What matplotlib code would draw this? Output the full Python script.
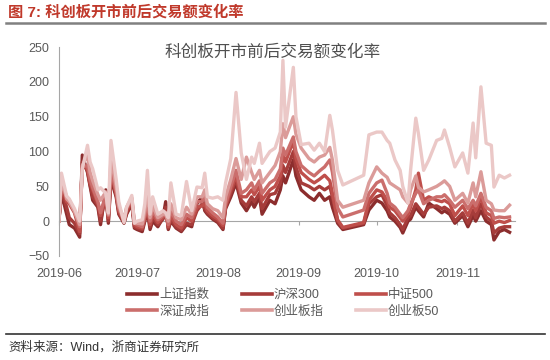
import matplotlib
matplotlib.use("Agg")
import matplotlib.pyplot as plt
import matplotlib.dates as mdates
from matplotlib.lines import Line2D
import pandas as pd

plt.rcParams['font.family'] = ['Liberation Sans', 'Noto Sans CJK SC', 'DejaVu Sans']

# 日期
dates = ["2019-06-01", "2019-06-02", "2019-06-04", "2019-06-05", "2019-06-07", "2019-06-09",
         "2019-06-10", "2019-06-12", "2019-06-13", "2019-06-14", "2019-06-16", "2019-06-17",
         "2019-06-19", "2019-06-20", "2019-06-21", "2019-06-23", "2019-06-24", "2019-06-26",
         "2019-06-27", "2019-06-29", "2019-06-30", "2019-07-01", "2019-07-03", "2019-07-04",
         "2019-07-05", "2019-07-06", "2019-07-07", "2019-07-09", "2019-07-11", "2019-07-12",
         "2019-07-13", "2019-07-14", "2019-07-16", "2019-07-18", "2019-07-20", "2019-07-22",
         "2019-07-24", "2019-07-26", "2019-07-27", "2019-07-28", "2019-07-30", "2019-08-01",
         "2019-08-03", "2019-08-04", "2019-08-06", "2019-08-08", "2019-08-10", "2019-08-12",
         "2019-08-14", "2019-08-15", "2019-08-17", "2019-08-18", "2019-08-21", "2019-08-23",
         "2019-08-25", "2019-08-26", "2019-08-27", "2019-08-30", "2019-08-31", "2019-09-02",
         "2019-09-05", "2019-09-07", "2019-09-09", "2019-09-11", "2019-09-13", "2019-09-14",
         "2019-09-16", "2019-09-18", "2019-09-26", "2019-09-28", "2019-10-01", "2019-10-03",
         "2019-10-05", "2019-10-06", "2019-10-08", "2019-10-10", "2019-10-11", "2019-10-13",
         "2019-10-14", "2019-10-16", "2019-10-17", "2019-10-19", "2019-10-21", "2019-10-24",
         "2019-10-26", "2019-10-27", "2019-10-29", "2019-10-31", "2019-11-03", "2019-11-05",
         "2019-11-07", "2019-11-08", "2019-11-10", "2019-11-12", "2019-11-14", "2019-11-15",
         "2019-11-17", "2019-11-19", "2019-11-21"]

sh = [0, 40, 10, -5, -10, -23, 95, 70, 50, 30, 20, -5, 45, -3, 60, 35, 10, -3, 10, 25, -10,
      -12, -15, 0, 15, -12, 0, -8, 5, 28, -12, 0, -10, -15, -5, -8, 25, 35, 15, 10, 3, -2,
      -12, 18, 35, 55, 26, 15, 28, 20, 35, 10, 30, 25, 45, 65, 55, 88, 65, 45,
      35, 30, 40, 30, 35, 20, -3, -12, -5, 16, 30, 26, 15, 6, 0, -9, -17, 0,
      3, 20, 15, 6, 26, 18, 12, 15, 10, -3, 8, -8, 8, 0, 15, 0, -5, -27, -15, -12, -16]
hs300 = [0, 45, 20, 5, -3, -18, 85, 72, 52, 35, 22, 0, 40, 0, 65, 38, 12, -2, 12, 28, -8,
         -10, -12, 2, 18, -8, 5, -5, 3, 20, -10, 3, -8, -13, -3, -5, 15, 25, 18, 12, 5, 0,
         -10, 20, 40, 60, 30, 22, 35, 28, 40, 18, 38, 40, 55, 80, 70, 100, 78, 55,
         50, 45, 50, 45, 50, 35, 0, -10, -3, 25, 35, 38, 22, 12, 5, -5, -12, 5,
         8, 25, 20, 10, 20, 22, 18, 20, 15, 0, 12, -3, 16, 5, 25, 6, 0, -17, -10, -8, -8]
zz500 = [0, 50, 28, 25, 12, -15, 80, 75, 55, 45, 25, 8, 35, 5, 70, 40, 15, 0, 15, 30, -5,
         -8, -10, 5, 20, -5, 10, -2, 6, 12, -8, 8, -5, -10, 5, 0, 20, 22, 25, 15, 8, 3,
         -6, 22, 45, 65, 35, 35, 45, 38, 50, 30, 45, 50, 65, 95, 85, 115, 90, 70,
         60, 55, 60, 66, 58, 40, 2, -9, -2, 30, 45, 42, 30, 20, 15, 5, 0, 10,
         20, 45, 69, 30, 35, 30, 28, 30, 25, 8, 22, 8, 25, 15, 35, 12, 8, -3, 0, -2, 1]
szcz = [0, 55, 35, 30, 15, -8, 78, 80, 60, 48, 28, 12, 38, 8, 75, 42, 18, 0, 18, 32, -3,
        -5, -8, 8, 25, 0, 15, 2, 8, 10, -5, 15, 0, -5, 10, 5, 28, 28, 40, 20, 12, 6,
        -3, 25, 50, 73, 40, 45, 55, 45, 58, 40, 55, 60, 75, 105, 95, 121, 100, 80,
        70, 65, 72, 78, 88, 70, 19, 6, 16, 40, 55, 59, 40, 26, 20, 10, 5, 15,
        25, 40, 45, 25, 30, 35, 35, 38, 30, 20, 30, 18, 30, 22, 40, 20, 15, 4, 6, 5, 6]
cyb = [0, 60, 32, 28, 14, -5, 80, 95, 70, 58, 38, 30, 42, 10, 90, 50, 22, 2, 20, 34, -2,
       -3, -4, 15, 40, 5, 22, 5, 10, 10, 0, 25, 5, 2, 20, 10, 35, 35, 45, 25, 18, 15,
       5, 35, 60, 90, 60, 92, 70, 60, 73, 55, 70, 80, 100, 140, 120, 150, 125, 105,
       90, 85, 92, 95, 106, 88, 30, 20, 30, 55, 78, 69, 63, 55, 50, 45, 35, 26,
       45, 65, 49, 42, 45, 50, 55, 58, 50, 30, 40, 26, 55, 35, 71, 30, 25, 16, 15, 15, 23]
cyb50 = [0, 69, 36, 32, 18, 0, 75, 109, 85, 75, 45, 48, 40, 12, 116, 60, 28, -2, 20, 37, -3,
         0, 2, 25, 73, 10, 35, 10, 15, 12, 5, 55, 10, 8, 57, 15, 49, 48, 69, 35, 33, 35,
         30, 55, 90, 185, 98, 60, 92, 83, 112, 83, 100, 105, 128, 231, 135, 221, 150, 110,
         112, 102, 112, 100, 152, 131, 73, 52, 66, 124, 128, 128, 116, 112, 88, 73, 50, 26,
         73, 148, 126, 73, 88, 116, 119, 131, 106, 78, 98, 69, 141, 91, 193, 112, 109, 49, 66, 62, 66]

names = ["上证指数", "沪深300", "中证500", "深证成指", "创业板指", "创业板50"]
colors = ["#8C2D2D", "#A63C3A", "#BF4F4B", "#CB6E6C", "#DB9B99", "#EBC8C7"]
series = [sh, hs300, zz500, szcz, cyb, cyb50]

x = pd.to_datetime(dates)

fig = plt.figure(figsize=(5.5, 3.6), dpi=100)
ax = fig.add_axes([0.107, 0.289, 0.829, 0.580])

for vals, c, n in zip(series, colors, names):
    ax.plot(x, vals, color=c, lw=2.4, label=n, solid_joinstyle='round')

ax.set_ylim(-50, 250)
ax.set_yticks(range(-50, 251, 50))
ax.set_xlim(pd.Timestamp("2019-06-01"), pd.Timestamp("2019-11-23"))
ax.set_xticks(pd.date_range("2019-06-01", "2019-11-01", freq="MS"))
ax.xaxis.set_major_formatter(mdates.DateFormatter("%Y-%m"))

for s in ["top", "right"]:
    ax.spines[s].set_visible(False)
ax.spines["left"].set_color("#A6A6A6")
ax.spines["bottom"].set_color("#A6A6A6")
ax.spines["bottom"].set_position(("data", 0))
ax.spines["bottom"].set_zorder(0)
ax.tick_params(axis="y", length=0, labelsize=9, labelcolor="#595959", pad=7)
ax.tick_params(axis="x", length=3, direction="out", color="#A6A6A6",
               labelsize=9, labelcolor="#595959", pad=31)

# 图内标题
fig.text(0.495, 0.856, "科创板开市前后交易额变化率", ha="center", va="center",
         fontsize=12, color="#505050")

# 图例
handles = [Line2D([0], [0], color=c, lw=2.6) for c in colors]
order = [0, 3, 1, 4, 2, 5]
fig.legend([handles[i] for i in order], [names[i] for i in order],
           loc="center", bbox_to_anchor=(0.515, 0.158), ncol=3, frameon=False,
           fontsize=9, handlelength=2.4, columnspacing=2.6, handletextpad=0.15,
           labelspacing=0.35, labelcolor="#595959")

# 顶部标题和线
fig.text(0.015, 0.966, "图 7: 科创板开市前后交易额变化率", ha="left", va="center",
         fontsize=11, fontweight="bold", color="#C0392B")
fig.add_artist(Line2D([0.01, 0.99], [0.937, 0.937], color="#808080", lw=1.8))

# 底部来源
fig.add_artist(Line2D([0.01, 0.99], [0.072, 0.072], color="#333333", lw=1.2))
fig.text(0.015, 0.036, "资料来源：Wind，浙商证券研究所", ha="left", va="center",
         fontsize=9, color="#333333")

fig.savefig("out.png", dpi=100)
